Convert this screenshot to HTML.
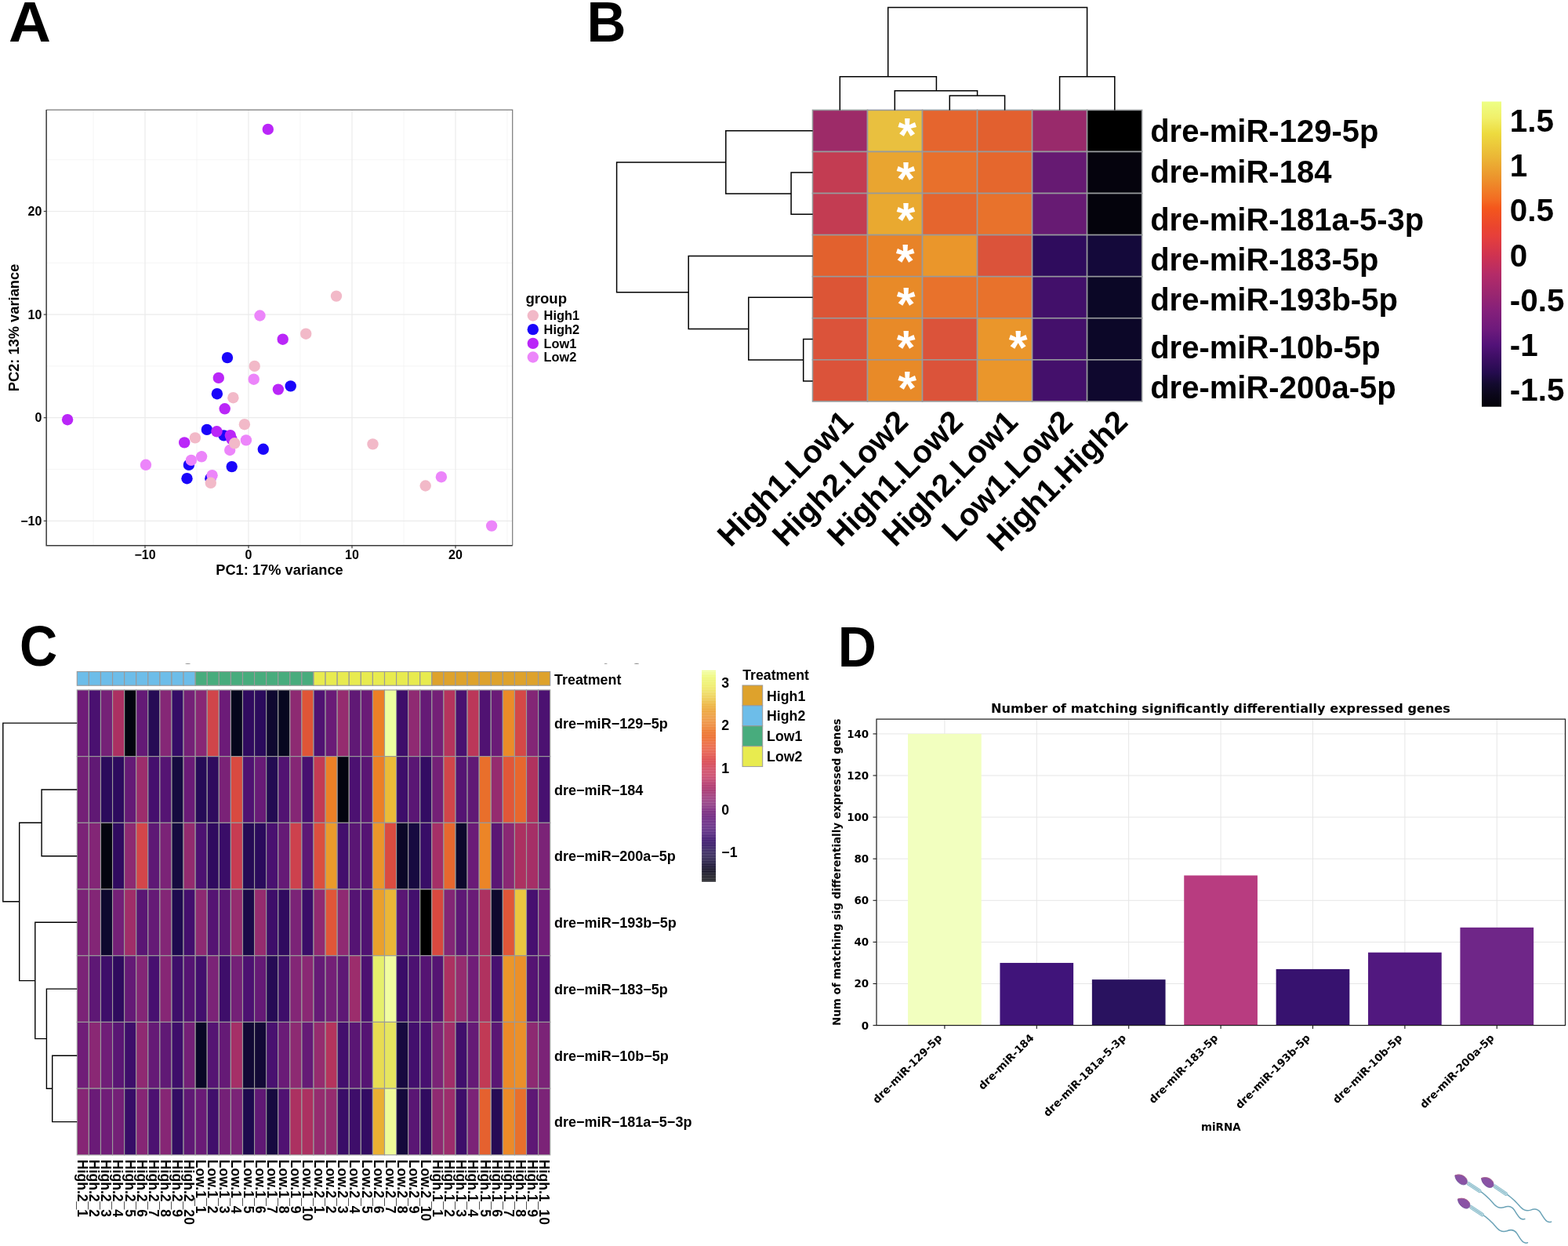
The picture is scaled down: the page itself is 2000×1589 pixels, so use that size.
<!DOCTYPE html>
<html lang="en"><head><meta charset="utf-8"><title>Figure</title>
<style>
html,body{margin:0;padding:0;background:#fff;}
body{width:2000px;height:1589px;overflow:hidden;}
svg{display:block;}
text{font-family:"Liberation Sans",sans-serif;font-weight:bold;fill:#000;}
.dj text, text.dj{font-family:"DejaVu Sans",sans-serif;}
</style></head><body>
<svg width="2000" height="1589" viewBox="0 0 2000 1589">
<rect x="0" y="0" width="2000" height="1589" fill="#ffffff"/>

<g id="letters">
<text transform="translate(11.03 52.9) scale(1.032 1)" font-size="72.32">A</text>
<text transform="translate(748.6 52.9) scale(0.957 1)" font-size="72.32">B</text>
<text transform="translate(24.93 849.28) scale(0.927 1)" font-size="71.97">C</text>
<text transform="translate(1068.78 849.7) scale(0.94 1)" font-size="72.32">D</text>
</g>
<g id="panelA">
<rect x="59.15" y="140.1" width="594.55" height="555.7" fill="#fff"/>
<line x1="119" x2="119" y1="140.1" y2="695.8" stroke="#f0f0f0" stroke-width="0.7"/>
<line x1="251" x2="251" y1="140.1" y2="695.8" stroke="#f0f0f0" stroke-width="0.7"/>
<line x1="383" x2="383" y1="140.1" y2="695.8" stroke="#f0f0f0" stroke-width="0.7"/>
<line x1="515" x2="515" y1="140.1" y2="695.8" stroke="#f0f0f0" stroke-width="0.7"/>
<line x1="647" x2="647" y1="140.1" y2="695.8" stroke="#f0f0f0" stroke-width="0.7"/>
<line x1="59.15" x2="653.7" y1="598.5" y2="598.5" stroke="#f0f0f0" stroke-width="0.7"/>
<line x1="59.15" x2="653.7" y1="466.9" y2="466.9" stroke="#f0f0f0" stroke-width="0.7"/>
<line x1="59.15" x2="653.7" y1="335.3" y2="335.3" stroke="#f0f0f0" stroke-width="0.7"/>
<line x1="59.15" x2="653.7" y1="203.7" y2="203.7" stroke="#f0f0f0" stroke-width="0.7"/>
<line x1="185" x2="185" y1="140.1" y2="695.8" stroke="#ebebeb" stroke-width="1.2"/>
<line x1="59.15" x2="653.7" y1="664.3" y2="664.3" stroke="#ebebeb" stroke-width="1.2"/>
<line x1="317" x2="317" y1="140.1" y2="695.8" stroke="#ebebeb" stroke-width="1.2"/>
<line x1="59.15" x2="653.7" y1="532.7" y2="532.7" stroke="#ebebeb" stroke-width="1.2"/>
<line x1="449" x2="449" y1="140.1" y2="695.8" stroke="#ebebeb" stroke-width="1.2"/>
<line x1="59.15" x2="653.7" y1="401.1" y2="401.1" stroke="#ebebeb" stroke-width="1.2"/>
<line x1="581" x2="581" y1="140.1" y2="695.8" stroke="#ebebeb" stroke-width="1.2"/>
<line x1="59.15" x2="653.7" y1="269.5" y2="269.5" stroke="#ebebeb" stroke-width="1.2"/>
<circle cx="290" cy="456.1" r="7.2" fill="#1A05FA"/>
<circle cx="370.7" cy="492.4" r="7.2" fill="#1A05FA"/>
<circle cx="276.9" cy="502.2" r="7.2" fill="#1A05FA"/>
<circle cx="263.9" cy="547.9" r="7.2" fill="#1A05FA"/>
<circle cx="285.5" cy="555.4" r="7.2" fill="#1A05FA"/>
<circle cx="335.8" cy="572.8" r="7.2" fill="#1A05FA"/>
<circle cx="240.9" cy="592.9" r="7.2" fill="#1A05FA"/>
<circle cx="295.7" cy="595.1" r="7.2" fill="#1A05FA"/>
<circle cx="238.5" cy="610.2" r="7.2" fill="#1A05FA"/>
<circle cx="268.4" cy="610.2" r="7.2" fill="#1A05FA"/>
<circle cx="278.8" cy="481.9" r="7.2" fill="#BA26F8"/>
<circle cx="354.9" cy="496.6" r="7.2" fill="#BA26F8"/>
<circle cx="286.7" cy="521.3" r="7.2" fill="#BA26F8"/>
<circle cx="276.5" cy="550.3" r="7.2" fill="#BA26F8"/>
<circle cx="293.8" cy="555.1" r="7.2" fill="#BA26F8"/>
<circle cx="295.6" cy="560.2" r="7.2" fill="#BA26F8"/>
<circle cx="235.2" cy="564.4" r="7.2" fill="#BA26F8"/>
<circle cx="341.8" cy="164.9" r="7.2" fill="#BA26F8"/>
<circle cx="360.7" cy="432.7" r="7.2" fill="#BA26F8"/>
<circle cx="86.1" cy="535.2" r="7.2" fill="#BA26F8"/>
<circle cx="323.7" cy="483.7" r="7.2" fill="#EC85FA"/>
<circle cx="313.9" cy="561.4" r="7.2" fill="#EC85FA"/>
<circle cx="293.2" cy="574" r="7.2" fill="#EC85FA"/>
<circle cx="257.1" cy="582.3" r="7.2" fill="#EC85FA"/>
<circle cx="243.9" cy="586.9" r="7.2" fill="#EC85FA"/>
<circle cx="270.6" cy="606.2" r="7.2" fill="#EC85FA"/>
<circle cx="331.5" cy="402.5" r="7.2" fill="#EC85FA"/>
<circle cx="186" cy="592.8" r="7.2" fill="#EC85FA"/>
<circle cx="562.9" cy="608.2" r="7.2" fill="#EC85FA"/>
<circle cx="627.1" cy="670.6" r="7.2" fill="#EC85FA"/>
<circle cx="324.7" cy="466.9" r="7.2" fill="#F2B9C8"/>
<circle cx="297.4" cy="507.2" r="7.2" fill="#F2B9C8"/>
<circle cx="311.9" cy="541.2" r="7.2" fill="#F2B9C8"/>
<circle cx="299.2" cy="565.3" r="7.2" fill="#F2B9C8"/>
<circle cx="248.9" cy="558.4" r="7.2" fill="#F2B9C8"/>
<circle cx="268.8" cy="615.8" r="7.2" fill="#F2B9C8"/>
<circle cx="390.2" cy="425.7" r="7.2" fill="#F2B9C8"/>
<circle cx="429" cy="377.6" r="7.2" fill="#F2B9C8"/>
<circle cx="475.5" cy="566.4" r="7.2" fill="#F2B9C8"/>
<circle cx="542.7" cy="619.5" r="7.2" fill="#F2B9C8"/>
<path d="M59.15 140.1H653.7V695.8" fill="none" stroke="#7a7a7a" stroke-width="1.2"/>
<path d="M59.15 140.1V695.8H653.7" fill="none" stroke="#3a3a3a" stroke-width="1.5"/>
<line x1="185" x2="185" y1="695.8" y2="699.2" stroke="#3a3a3a" stroke-width="1.2"/>
<text x="185" y="713.2" font-size="16" text-anchor="middle">−10</text>
<line x1="55.75" x2="59.15" y1="664.3" y2="664.3" stroke="#3a3a3a" stroke-width="1.2"/>
<text x="53.4" y="670" font-size="16" text-anchor="end">−10</text>
<line x1="317" x2="317" y1="695.8" y2="699.2" stroke="#3a3a3a" stroke-width="1.2"/>
<text x="317" y="713.2" font-size="16" text-anchor="middle">0</text>
<line x1="55.75" x2="59.15" y1="532.7" y2="532.7" stroke="#3a3a3a" stroke-width="1.2"/>
<text x="53.4" y="538.4" font-size="16" text-anchor="end">0</text>
<line x1="449" x2="449" y1="695.8" y2="699.2" stroke="#3a3a3a" stroke-width="1.2"/>
<text x="449" y="713.2" font-size="16" text-anchor="middle">10</text>
<line x1="55.75" x2="59.15" y1="401.1" y2="401.1" stroke="#3a3a3a" stroke-width="1.2"/>
<text x="53.4" y="406.8" font-size="16" text-anchor="end">10</text>
<line x1="581" x2="581" y1="695.8" y2="699.2" stroke="#3a3a3a" stroke-width="1.2"/>
<text x="581" y="713.2" font-size="16" text-anchor="middle">20</text>
<line x1="55.75" x2="59.15" y1="269.5" y2="269.5" stroke="#3a3a3a" stroke-width="1.2"/>
<text x="53.4" y="275.2" font-size="16" text-anchor="end">20</text>
<text x="356.5" y="732.8" font-size="18.3" text-anchor="middle">PC1: 17% variance</text>
<text transform="translate(24.2 418) rotate(-90)" font-size="18.3" text-anchor="middle">PC2: 13% variance</text>
<text x="670.4" y="386.5" font-size="18.6">group</text>
<circle cx="679.8" cy="402.5" r="7.2" fill="#F2B9C8"/>
<text x="693.6" y="408.25" font-size="16.4">High1</text>
<circle cx="679.8" cy="420.17" r="7.2" fill="#1A05FA"/>
<text x="693.6" y="425.92" font-size="16.4">High2</text>
<circle cx="679.8" cy="437.84" r="7.2" fill="#BA26F8"/>
<text x="693.6" y="443.59" font-size="16.4">Low1</text>
<circle cx="679.8" cy="455.51" r="7.2" fill="#EC85FA"/>
<text x="693.6" y="461.26" font-size="16.4">Low2</text>
</g>
<g id="panelB">
<g stroke="#979a9c" stroke-width="1.6">
<rect x="1036.5" y="140.4" width="70.02" height="53.07" fill="#9D2B68"/>
<rect x="1106.52" y="140.4" width="70.02" height="53.07" fill="#E9C03F"/>
<rect x="1176.54" y="140.4" width="70.02" height="53.07" fill="#E5652E"/>
<rect x="1246.56" y="140.4" width="70.02" height="53.07" fill="#E2602F"/>
<rect x="1316.58" y="140.4" width="70.02" height="53.07" fill="#992A6B"/>
<rect x="1386.6" y="140.4" width="70.02" height="53.07" fill="#000000"/>
<rect x="1036.5" y="193.47" width="70.02" height="53.07" fill="#C33C52"/>
<rect x="1106.52" y="193.47" width="70.02" height="53.07" fill="#E9A530"/>
<rect x="1176.54" y="193.47" width="70.02" height="53.07" fill="#E8702C"/>
<rect x="1246.56" y="193.47" width="70.02" height="53.07" fill="#E5672D"/>
<rect x="1316.58" y="193.47" width="70.02" height="53.07" fill="#661A72"/>
<rect x="1386.6" y="193.47" width="70.02" height="53.07" fill="#05030D"/>
<rect x="1036.5" y="246.54" width="70.02" height="53.07" fill="#C33C52"/>
<rect x="1106.52" y="246.54" width="70.02" height="53.07" fill="#E9A930"/>
<rect x="1176.54" y="246.54" width="70.02" height="53.07" fill="#E5652E"/>
<rect x="1246.56" y="246.54" width="70.02" height="53.07" fill="#E8722C"/>
<rect x="1316.58" y="246.54" width="70.02" height="53.07" fill="#671B73"/>
<rect x="1386.6" y="246.54" width="70.02" height="53.07" fill="#04030C"/>
<rect x="1036.5" y="299.61" width="70.02" height="53.07" fill="#E2612E"/>
<rect x="1106.52" y="299.61" width="70.02" height="53.07" fill="#E88328"/>
<rect x="1176.54" y="299.61" width="70.02" height="53.07" fill="#EA962B"/>
<rect x="1246.56" y="299.61" width="70.02" height="53.07" fill="#DB533A"/>
<rect x="1316.58" y="299.61" width="70.02" height="53.07" fill="#2F0C5D"/>
<rect x="1386.6" y="299.61" width="70.02" height="53.07" fill="#14093A"/>
<rect x="1036.5" y="352.68" width="70.02" height="53.07" fill="#DC5536"/>
<rect x="1106.52" y="352.68" width="70.02" height="53.07" fill="#E88A28"/>
<rect x="1176.54" y="352.68" width="70.02" height="53.07" fill="#E8722C"/>
<rect x="1246.56" y="352.68" width="70.02" height="53.07" fill="#E8722C"/>
<rect x="1316.58" y="352.68" width="70.02" height="53.07" fill="#42106A"/>
<rect x="1386.6" y="352.68" width="70.02" height="53.07" fill="#0B0726"/>
<rect x="1036.5" y="405.75" width="70.02" height="53.07" fill="#DB533A"/>
<rect x="1106.52" y="405.75" width="70.02" height="53.07" fill="#E88A28"/>
<rect x="1176.54" y="405.75" width="70.02" height="53.07" fill="#DB533A"/>
<rect x="1246.56" y="405.75" width="70.02" height="53.07" fill="#EA962B"/>
<rect x="1316.58" y="405.75" width="70.02" height="53.07" fill="#44106B"/>
<rect x="1386.6" y="405.75" width="70.02" height="53.07" fill="#0C0728"/>
<rect x="1036.5" y="458.82" width="70.02" height="53.07" fill="#DB533A"/>
<rect x="1106.52" y="458.82" width="70.02" height="53.07" fill="#E88A28"/>
<rect x="1176.54" y="458.82" width="70.02" height="53.07" fill="#DB533A"/>
<rect x="1246.56" y="458.82" width="70.02" height="53.07" fill="#EA962B"/>
<rect x="1316.58" y="458.82" width="70.02" height="53.07" fill="#44106B"/>
<rect x="1386.6" y="458.82" width="70.02" height="53.07" fill="#0F082E"/>
</g>
<g fill="none" stroke="#000" stroke-width="1.5" stroke-linejoin="miter">
<path d="M1132.7 97.7V9.6H1386.6V97.7"/>
<path d="M1071.3 140.5V97.7H1194.4V115.8"/>
<path d="M1141.3 140.5V115.8H1246.6V121.9"/>
<path d="M1211.3 140.5V121.9H1281.6V140.5"/>
<path d="M1351.6 140.5V97.7H1421.8V140.5"/>
<path d="M925.8 207H786.6V372.8H878.2"/>
<path d="M1036.6 166.7H925.8V247H1009.1"/>
<path d="M1036.6 220H1009.1V273.2H1036.6"/>
<path d="M1036.6 326.5H878.2V419.6H954.8"/>
<path d="M1036.6 379.3H954.8V459.1H1024.7"/>
<path d="M1036.6 432.4H1024.7V486H1036.6"/>
</g>
<text x="1467.2" y="181.3" font-size="40">dre-miR-129-5p</text>
<text x="1467.2" y="232.9" font-size="40">dre-miR-184</text>
<text x="1467.2" y="294" font-size="40">dre-miR-181a-5-3p</text>
<text x="1467.2" y="344.8" font-size="40">dre-miR-183-5p</text>
<text x="1467.2" y="396.2" font-size="40">dre-miR-193b-5p</text>
<text x="1467.2" y="457.4" font-size="40">dre-miR-10b-5p</text>
<text x="1467.2" y="508.2" font-size="40">dre-miR-200a-5p</text>
<text transform="translate(1090.5 540.2) rotate(-45)" font-size="40" text-anchor="end">High1.Low1</text>
<text transform="translate(1160.5 540.2) rotate(-45)" font-size="40" text-anchor="end">High2.Low2</text>
<text transform="translate(1230.5 540.2) rotate(-45)" font-size="40" text-anchor="end">High1.Low2</text>
<text transform="translate(1300.5 540.2) rotate(-45)" font-size="40" text-anchor="end">High2.Low1</text>
<text transform="translate(1370.5 540.2) rotate(-45)" font-size="40" text-anchor="end">Low1.Low2</text>
<text transform="translate(1440.5 540.2) rotate(-45)" font-size="40" text-anchor="end">High1.High2</text>
<text x="1157.2" y="192.7" font-size="61" text-anchor="middle" style="fill:#fff">*</text>
<text x="1155.4" y="248.6" font-size="61" text-anchor="middle" style="fill:#fff">*</text>
<text x="1155.4" y="301" font-size="61" text-anchor="middle" style="fill:#fff">*</text>
<text x="1154.7" y="353.7" font-size="61" text-anchor="middle" style="fill:#fff">*</text>
<text x="1155.5" y="409.3" font-size="61" text-anchor="middle" style="fill:#fff">*</text>
<text x="1155.5" y="463.9" font-size="61" text-anchor="middle" style="fill:#fff">*</text>
<text x="1157" y="516.1" font-size="61" text-anchor="middle" style="fill:#fff">*</text>
<text x="1298.5" y="463.9" font-size="61" text-anchor="middle" style="fill:#fff">*</text>
<defs><linearGradient id="gB" x1="0" y1="0" x2="0" y2="1">
<stop offset="0.0000" stop-color="#EDFF85"/>
<stop offset="0.0527" stop-color="#F1F06A"/>
<stop offset="0.1041" stop-color="#EDDB3F"/>
<stop offset="0.1811" stop-color="#EBB736"/>
<stop offset="0.2454" stop-color="#EC962D"/>
<stop offset="0.3225" stop-color="#F36B22"/>
<stop offset="0.3482" stop-color="#F4571C"/>
<stop offset="0.4124" stop-color="#EA442F"/>
<stop offset="0.4381" stop-color="#E7403A"/>
<stop offset="0.5023" stop-color="#D03350"/>
<stop offset="0.5665" stop-color="#B42B68"/>
<stop offset="0.6308" stop-color="#9A2670"/>
<stop offset="0.6822" stop-color="#86207A"/>
<stop offset="0.7464" stop-color="#6E1A7C"/>
<stop offset="0.7978" stop-color="#521278"/>
<stop offset="0.8363" stop-color="#3F0E66"/>
<stop offset="0.8877" stop-color="#250B4F"/>
<stop offset="0.9263" stop-color="#130A2E"/>
<stop offset="0.9648" stop-color="#0A0618"/>
<stop offset="1.0000" stop-color="#050309"/>
</linearGradient></defs>
<rect x="1890" y="129.5" width="25" height="389.2" fill="url(#gB)"/>
<text x="1925.8" y="168.4" font-size="40.4">1.5</text>
<text x="1925.8" y="225.3" font-size="40.4">1</text>
<text x="1925.8" y="282.4" font-size="40.4">0.5</text>
<text x="1925.8" y="339.6" font-size="40.4">0</text>
<text x="1925.8" y="396.7" font-size="40.4">-0.5</text>
<text x="1925.8" y="453.8" font-size="40.4">-1</text>
<text x="1925.8" y="510.7" font-size="40.4">-1.5</text>
</g>
<g id="panelC">
<g fill="#8f8f8f"><ellipse cx="239.6" cy="846.5" rx="3.4" ry="0.6"/><ellipse cx="772.6" cy="846.2" rx="2" ry="0.5"/><ellipse cx="812" cy="846.3" rx="3.2" ry="0.6"/></g>
<g stroke="#9a9a9a" stroke-width="1.15">
<rect x="98.3" y="856.5" width="15.09" height="17.7" fill="#6DBDE9"/>
<rect x="113.38" y="856.5" width="15.09" height="17.7" fill="#6DBDE9"/>
<rect x="128.47" y="856.5" width="15.09" height="17.7" fill="#6DBDE9"/>
<rect x="143.56" y="856.5" width="15.09" height="17.7" fill="#6DBDE9"/>
<rect x="158.64" y="856.5" width="15.09" height="17.7" fill="#6DBDE9"/>
<rect x="173.73" y="856.5" width="15.09" height="17.7" fill="#6DBDE9"/>
<rect x="188.81" y="856.5" width="15.09" height="17.7" fill="#6DBDE9"/>
<rect x="203.89" y="856.5" width="15.09" height="17.7" fill="#6DBDE9"/>
<rect x="218.98" y="856.5" width="15.09" height="17.7" fill="#6DBDE9"/>
<rect x="234.06" y="856.5" width="15.09" height="17.7" fill="#6DBDE9"/>
<rect x="249.15" y="856.5" width="15.09" height="17.7" fill="#48AC7D"/>
<rect x="264.24" y="856.5" width="15.09" height="17.7" fill="#48AC7D"/>
<rect x="279.32" y="856.5" width="15.09" height="17.7" fill="#48AC7D"/>
<rect x="294.41" y="856.5" width="15.09" height="17.7" fill="#48AC7D"/>
<rect x="309.49" y="856.5" width="15.09" height="17.7" fill="#48AC7D"/>
<rect x="324.57" y="856.5" width="15.09" height="17.7" fill="#48AC7D"/>
<rect x="339.66" y="856.5" width="15.09" height="17.7" fill="#48AC7D"/>
<rect x="354.75" y="856.5" width="15.09" height="17.7" fill="#48AC7D"/>
<rect x="369.83" y="856.5" width="15.09" height="17.7" fill="#48AC7D"/>
<rect x="384.92" y="856.5" width="15.09" height="17.7" fill="#48AC7D"/>
<rect x="400" y="856.5" width="15.09" height="17.7" fill="#E8EB4F"/>
<rect x="415.09" y="856.5" width="15.09" height="17.7" fill="#E8EB4F"/>
<rect x="430.17" y="856.5" width="15.09" height="17.7" fill="#E8EB4F"/>
<rect x="445.26" y="856.5" width="15.09" height="17.7" fill="#E8EB4F"/>
<rect x="460.34" y="856.5" width="15.09" height="17.7" fill="#E8EB4F"/>
<rect x="475.43" y="856.5" width="15.09" height="17.7" fill="#E8EB4F"/>
<rect x="490.51" y="856.5" width="15.09" height="17.7" fill="#E8EB4F"/>
<rect x="505.6" y="856.5" width="15.09" height="17.7" fill="#E8EB4F"/>
<rect x="520.68" y="856.5" width="15.09" height="17.7" fill="#E8EB4F"/>
<rect x="535.76" y="856.5" width="15.09" height="17.7" fill="#E8EB4F"/>
<rect x="550.85" y="856.5" width="15.09" height="17.7" fill="#DEA22C"/>
<rect x="565.94" y="856.5" width="15.09" height="17.7" fill="#DEA22C"/>
<rect x="581.02" y="856.5" width="15.09" height="17.7" fill="#DEA22C"/>
<rect x="596.11" y="856.5" width="15.09" height="17.7" fill="#DEA22C"/>
<rect x="611.19" y="856.5" width="15.09" height="17.7" fill="#DEA22C"/>
<rect x="626.27" y="856.5" width="15.09" height="17.7" fill="#DEA22C"/>
<rect x="641.36" y="856.5" width="15.09" height="17.7" fill="#DEA22C"/>
<rect x="656.44" y="856.5" width="15.09" height="17.7" fill="#DEA22C"/>
<rect x="671.53" y="856.5" width="15.09" height="17.7" fill="#DEA22C"/>
<rect x="686.62" y="856.5" width="15.09" height="17.7" fill="#DEA22C"/>
<rect x="98.3" y="879.95" width="15.09" height="84.7" fill="#6F1C78"/>
<rect x="113.38" y="879.95" width="15.09" height="84.7" fill="#4A1170"/>
<rect x="128.47" y="879.95" width="15.09" height="84.7" fill="#752177"/>
<rect x="143.56" y="879.95" width="15.09" height="84.7" fill="#AB3062"/>
<rect x="158.64" y="879.95" width="15.09" height="84.7" fill="#03040F"/>
<rect x="173.73" y="879.95" width="15.09" height="84.7" fill="#641A76"/>
<rect x="188.81" y="879.95" width="15.09" height="84.7" fill="#260B55"/>
<rect x="203.89" y="879.95" width="15.09" height="84.7" fill="#852776"/>
<rect x="218.98" y="879.95" width="15.09" height="84.7" fill="#350C66"/>
<rect x="234.06" y="879.95" width="15.09" height="84.7" fill="#752177"/>
<rect x="249.15" y="879.95" width="15.09" height="84.7" fill="#882775"/>
<rect x="264.24" y="879.95" width="15.09" height="84.7" fill="#D0454A"/>
<rect x="279.32" y="879.95" width="15.09" height="84.7" fill="#6C1B78"/>
<rect x="294.41" y="879.95" width="15.09" height="84.7" fill="#05061C"/>
<rect x="309.49" y="879.95" width="15.09" height="84.7" fill="#300B5F"/>
<rect x="324.57" y="879.95" width="15.09" height="84.7" fill="#2B0B5C"/>
<rect x="339.66" y="879.95" width="15.09" height="84.7" fill="#0F0830"/>
<rect x="354.75" y="879.95" width="15.09" height="84.7" fill="#07071F"/>
<rect x="369.83" y="879.95" width="15.09" height="84.7" fill="#8D2A72"/>
<rect x="384.92" y="879.95" width="15.09" height="84.7" fill="#DF5537"/>
<rect x="400" y="879.95" width="15.09" height="84.7" fill="#501272"/>
<rect x="415.09" y="879.95" width="15.09" height="84.7" fill="#6A1B77"/>
<rect x="430.17" y="879.95" width="15.09" height="84.7" fill="#952C6F"/>
<rect x="445.26" y="879.95" width="15.09" height="84.7" fill="#601975"/>
<rect x="460.34" y="879.95" width="15.09" height="84.7" fill="#6A1B77"/>
<rect x="475.43" y="879.95" width="15.09" height="84.7" fill="#EC8026"/>
<rect x="490.51" y="879.95" width="15.09" height="84.7" fill="#EEFFA0"/>
<rect x="505.6" y="879.95" width="15.09" height="84.7" fill="#3E0E6A"/>
<rect x="520.68" y="879.95" width="15.09" height="84.7" fill="#8F2A72"/>
<rect x="535.76" y="879.95" width="15.09" height="84.7" fill="#651A76"/>
<rect x="550.85" y="879.95" width="15.09" height="84.7" fill="#742077"/>
<rect x="565.94" y="879.95" width="15.09" height="84.7" fill="#B4345D"/>
<rect x="581.02" y="879.95" width="15.09" height="84.7" fill="#491170"/>
<rect x="596.11" y="879.95" width="15.09" height="84.7" fill="#BB3759"/>
<rect x="611.19" y="879.95" width="15.09" height="84.7" fill="#501272"/>
<rect x="626.27" y="879.95" width="15.09" height="84.7" fill="#6A1B77"/>
<rect x="641.36" y="879.95" width="15.09" height="84.7" fill="#EB8B28"/>
<rect x="656.44" y="879.95" width="15.09" height="84.7" fill="#D44847"/>
<rect x="671.53" y="879.95" width="15.09" height="84.7" fill="#832676"/>
<rect x="686.62" y="879.95" width="15.09" height="84.7" fill="#4C1171"/>
<rect x="98.3" y="964.65" width="15.09" height="84.7" fill="#742077"/>
<rect x="113.38" y="964.65" width="15.09" height="84.7" fill="#601974"/>
<rect x="128.47" y="964.65" width="15.09" height="84.7" fill="#2B0B5C"/>
<rect x="143.56" y="964.65" width="15.09" height="84.7" fill="#2D0B5E"/>
<rect x="158.64" y="964.65" width="15.09" height="84.7" fill="#651A76"/>
<rect x="173.73" y="964.65" width="15.09" height="84.7" fill="#9C2D6C"/>
<rect x="188.81" y="964.65" width="15.09" height="84.7" fill="#450F6E"/>
<rect x="203.89" y="964.65" width="15.09" height="84.7" fill="#551473"/>
<rect x="218.98" y="964.65" width="15.09" height="84.7" fill="#150A3F"/>
<rect x="234.06" y="964.65" width="15.09" height="84.7" fill="#6A1B77"/>
<rect x="249.15" y="964.65" width="15.09" height="84.7" fill="#270B57"/>
<rect x="264.24" y="964.65" width="15.09" height="84.7" fill="#2F0B5E"/>
<rect x="279.32" y="964.65" width="15.09" height="84.7" fill="#7A2277"/>
<rect x="294.41" y="964.65" width="15.09" height="84.7" fill="#D94A40"/>
<rect x="309.49" y="964.65" width="15.09" height="84.7" fill="#501272"/>
<rect x="324.57" y="964.65" width="15.09" height="84.7" fill="#681B77"/>
<rect x="339.66" y="964.65" width="15.09" height="84.7" fill="#230B52"/>
<rect x="354.75" y="964.65" width="15.09" height="84.7" fill="#521372"/>
<rect x="369.83" y="964.65" width="15.09" height="84.7" fill="#852675"/>
<rect x="384.92" y="964.65" width="15.09" height="84.7" fill="#471070"/>
<rect x="400" y="964.65" width="15.09" height="84.7" fill="#C33B54"/>
<rect x="415.09" y="964.65" width="15.09" height="84.7" fill="#EC8026"/>
<rect x="430.17" y="964.65" width="15.09" height="84.7" fill="#03040F"/>
<rect x="445.26" y="964.65" width="15.09" height="84.7" fill="#4C1171"/>
<rect x="460.34" y="964.65" width="15.09" height="84.7" fill="#5A1674"/>
<rect x="475.43" y="964.65" width="15.09" height="84.7" fill="#EC8026"/>
<rect x="490.51" y="964.65" width="15.09" height="84.7" fill="#EBBB38"/>
<rect x="505.6" y="964.65" width="15.09" height="84.7" fill="#3E0E6A"/>
<rect x="520.68" y="964.65" width="15.09" height="84.7" fill="#5A1674"/>
<rect x="535.76" y="964.65" width="15.09" height="84.7" fill="#330C63"/>
<rect x="550.85" y="964.65" width="15.09" height="84.7" fill="#742077"/>
<rect x="565.94" y="964.65" width="15.09" height="84.7" fill="#D0454A"/>
<rect x="581.02" y="964.65" width="15.09" height="84.7" fill="#551473"/>
<rect x="596.11" y="964.65" width="15.09" height="84.7" fill="#601975"/>
<rect x="611.19" y="964.65" width="15.09" height="84.7" fill="#E96F2B"/>
<rect x="626.27" y="964.65" width="15.09" height="84.7" fill="#952C6F"/>
<rect x="641.36" y="964.65" width="15.09" height="84.7" fill="#E15738"/>
<rect x="656.44" y="964.65" width="15.09" height="84.7" fill="#E7672E"/>
<rect x="671.53" y="964.65" width="15.09" height="84.7" fill="#B0325F"/>
<rect x="686.62" y="964.65" width="15.09" height="84.7" fill="#471070"/>
<rect x="98.3" y="1049.35" width="15.09" height="84.7" fill="#7B2377"/>
<rect x="113.38" y="1049.35" width="15.09" height="84.7" fill="#832676"/>
<rect x="128.47" y="1049.35" width="15.09" height="84.7" fill="#03040F"/>
<rect x="143.56" y="1049.35" width="15.09" height="84.7" fill="#300B5F"/>
<rect x="158.64" y="1049.35" width="15.09" height="84.7" fill="#8D2A72"/>
<rect x="173.73" y="1049.35" width="15.09" height="84.7" fill="#D3464A"/>
<rect x="188.81" y="1049.35" width="15.09" height="84.7" fill="#5E1875"/>
<rect x="203.89" y="1049.35" width="15.09" height="84.7" fill="#7B2377"/>
<rect x="218.98" y="1049.35" width="15.09" height="84.7" fill="#150A3F"/>
<rect x="234.06" y="1049.35" width="15.09" height="84.7" fill="#932B6F"/>
<rect x="249.15" y="1049.35" width="15.09" height="84.7" fill="#4D1271"/>
<rect x="264.24" y="1049.35" width="15.09" height="84.7" fill="#300B5F"/>
<rect x="279.32" y="1049.35" width="15.09" height="84.7" fill="#3A0D68"/>
<rect x="294.41" y="1049.35" width="15.09" height="84.7" fill="#C73C52"/>
<rect x="309.49" y="1049.35" width="15.09" height="84.7" fill="#260B55"/>
<rect x="324.57" y="1049.35" width="15.09" height="84.7" fill="#2B0B5C"/>
<rect x="339.66" y="1049.35" width="15.09" height="84.7" fill="#491170"/>
<rect x="354.75" y="1049.35" width="15.09" height="84.7" fill="#651A76"/>
<rect x="369.83" y="1049.35" width="15.09" height="84.7" fill="#CD414D"/>
<rect x="384.92" y="1049.35" width="15.09" height="84.7" fill="#5E1875"/>
<rect x="400" y="1049.35" width="15.09" height="84.7" fill="#DB4F3F"/>
<rect x="415.09" y="1049.35" width="15.09" height="84.7" fill="#EB9A2B"/>
<rect x="430.17" y="1049.35" width="15.09" height="84.7" fill="#430F6D"/>
<rect x="445.26" y="1049.35" width="15.09" height="84.7" fill="#5A1674"/>
<rect x="460.34" y="1049.35" width="15.09" height="84.7" fill="#551473"/>
<rect x="475.43" y="1049.35" width="15.09" height="84.7" fill="#EB962A"/>
<rect x="490.51" y="1049.35" width="15.09" height="84.7" fill="#DA4C40"/>
<rect x="505.6" y="1049.35" width="15.09" height="84.7" fill="#0B0728"/>
<rect x="520.68" y="1049.35" width="15.09" height="84.7" fill="#170A40"/>
<rect x="535.76" y="1049.35" width="15.09" height="84.7" fill="#380D67"/>
<rect x="550.85" y="1049.35" width="15.09" height="84.7" fill="#A52F67"/>
<rect x="565.94" y="1049.35" width="15.09" height="84.7" fill="#E7672E"/>
<rect x="581.02" y="1049.35" width="15.09" height="84.7" fill="#0D082C"/>
<rect x="596.11" y="1049.35" width="15.09" height="84.7" fill="#6A1B77"/>
<rect x="611.19" y="1049.35" width="15.09" height="84.7" fill="#EC8527"/>
<rect x="626.27" y="1049.35" width="15.09" height="84.7" fill="#5A1674"/>
<rect x="641.36" y="1049.35" width="15.09" height="84.7" fill="#8A2874"/>
<rect x="656.44" y="1049.35" width="15.09" height="84.7" fill="#AC3161"/>
<rect x="671.53" y="1049.35" width="15.09" height="84.7" fill="#A52F67"/>
<rect x="686.62" y="1049.35" width="15.09" height="84.7" fill="#7B2377"/>
<rect x="98.3" y="1134.05" width="15.09" height="84.7" fill="#7B2377"/>
<rect x="113.38" y="1134.05" width="15.09" height="84.7" fill="#832676"/>
<rect x="128.47" y="1134.05" width="15.09" height="84.7" fill="#0E082E"/>
<rect x="143.56" y="1134.05" width="15.09" height="84.7" fill="#742077"/>
<rect x="158.64" y="1134.05" width="15.09" height="84.7" fill="#A02E69"/>
<rect x="173.73" y="1134.05" width="15.09" height="84.7" fill="#5A1674"/>
<rect x="188.81" y="1134.05" width="15.09" height="84.7" fill="#651A76"/>
<rect x="203.89" y="1134.05" width="15.09" height="84.7" fill="#832676"/>
<rect x="218.98" y="1134.05" width="15.09" height="84.7" fill="#1E0A4E"/>
<rect x="234.06" y="1134.05" width="15.09" height="84.7" fill="#430F6D"/>
<rect x="249.15" y="1134.05" width="15.09" height="84.7" fill="#8D2A72"/>
<rect x="264.24" y="1134.05" width="15.09" height="84.7" fill="#551473"/>
<rect x="279.32" y="1134.05" width="15.09" height="84.7" fill="#5A1674"/>
<rect x="294.41" y="1134.05" width="15.09" height="84.7" fill="#952C6F"/>
<rect x="309.49" y="1134.05" width="15.09" height="84.7" fill="#1B0A48"/>
<rect x="324.57" y="1134.05" width="15.09" height="84.7" fill="#952C6F"/>
<rect x="339.66" y="1134.05" width="15.09" height="84.7" fill="#3E0E6A"/>
<rect x="354.75" y="1134.05" width="15.09" height="84.7" fill="#300B5F"/>
<rect x="369.83" y="1134.05" width="15.09" height="84.7" fill="#7B2377"/>
<rect x="384.92" y="1134.05" width="15.09" height="84.7" fill="#3A0D68"/>
<rect x="400" y="1134.05" width="15.09" height="84.7" fill="#912A71"/>
<rect x="415.09" y="1134.05" width="15.09" height="84.7" fill="#E05638"/>
<rect x="430.17" y="1134.05" width="15.09" height="84.7" fill="#8F2A72"/>
<rect x="445.26" y="1134.05" width="15.09" height="84.7" fill="#551473"/>
<rect x="460.34" y="1134.05" width="15.09" height="84.7" fill="#501272"/>
<rect x="475.43" y="1134.05" width="15.09" height="84.7" fill="#EAA02C"/>
<rect x="490.51" y="1134.05" width="15.09" height="84.7" fill="#EBB637"/>
<rect x="505.6" y="1134.05" width="15.09" height="84.7" fill="#5A1674"/>
<rect x="520.68" y="1134.05" width="15.09" height="84.7" fill="#430F6D"/>
<rect x="535.76" y="1134.05" width="15.09" height="84.7" fill="#000000"/>
<rect x="550.85" y="1134.05" width="15.09" height="84.7" fill="#D8493F"/>
<rect x="565.94" y="1134.05" width="15.09" height="84.7" fill="#832676"/>
<rect x="581.02" y="1134.05" width="15.09" height="84.7" fill="#5E1875"/>
<rect x="596.11" y="1134.05" width="15.09" height="84.7" fill="#6A1B77"/>
<rect x="611.19" y="1134.05" width="15.09" height="84.7" fill="#AC3161"/>
<rect x="626.27" y="1134.05" width="15.09" height="84.7" fill="#0E082E"/>
<rect x="641.36" y="1134.05" width="15.09" height="84.7" fill="#E05638"/>
<rect x="656.44" y="1134.05" width="15.09" height="84.7" fill="#EAC640"/>
<rect x="671.53" y="1134.05" width="15.09" height="84.7" fill="#471070"/>
<rect x="686.62" y="1134.05" width="15.09" height="84.7" fill="#701D78"/>
<rect x="98.3" y="1218.75" width="15.09" height="84.7" fill="#7B2377"/>
<rect x="113.38" y="1218.75" width="15.09" height="84.7" fill="#5E1875"/>
<rect x="128.47" y="1218.75" width="15.09" height="84.7" fill="#3E0E6A"/>
<rect x="143.56" y="1218.75" width="15.09" height="84.7" fill="#2F0B5E"/>
<rect x="158.64" y="1218.75" width="15.09" height="84.7" fill="#651A76"/>
<rect x="173.73" y="1218.75" width="15.09" height="84.7" fill="#832676"/>
<rect x="188.81" y="1218.75" width="15.09" height="84.7" fill="#471070"/>
<rect x="203.89" y="1218.75" width="15.09" height="84.7" fill="#862675"/>
<rect x="218.98" y="1218.75" width="15.09" height="84.7" fill="#3E0E6A"/>
<rect x="234.06" y="1218.75" width="15.09" height="84.7" fill="#551473"/>
<rect x="249.15" y="1218.75" width="15.09" height="84.7" fill="#430F6D"/>
<rect x="264.24" y="1218.75" width="15.09" height="84.7" fill="#7B2377"/>
<rect x="279.32" y="1218.75" width="15.09" height="84.7" fill="#3E0E6A"/>
<rect x="294.41" y="1218.75" width="15.09" height="84.7" fill="#742077"/>
<rect x="309.49" y="1218.75" width="15.09" height="84.7" fill="#4C1171"/>
<rect x="324.57" y="1218.75" width="15.09" height="84.7" fill="#651A76"/>
<rect x="339.66" y="1218.75" width="15.09" height="84.7" fill="#260B55"/>
<rect x="354.75" y="1218.75" width="15.09" height="84.7" fill="#3E0E6A"/>
<rect x="369.83" y="1218.75" width="15.09" height="84.7" fill="#832676"/>
<rect x="384.92" y="1218.75" width="15.09" height="84.7" fill="#8A2874"/>
<rect x="400" y="1218.75" width="15.09" height="84.7" fill="#651A76"/>
<rect x="415.09" y="1218.75" width="15.09" height="84.7" fill="#742077"/>
<rect x="430.17" y="1218.75" width="15.09" height="84.7" fill="#5E1875"/>
<rect x="445.26" y="1218.75" width="15.09" height="84.7" fill="#9C2D6C"/>
<rect x="460.34" y="1218.75" width="15.09" height="84.7" fill="#4C1171"/>
<rect x="475.43" y="1218.75" width="15.09" height="84.7" fill="#E6F06C"/>
<rect x="490.51" y="1218.75" width="15.09" height="84.7" fill="#F1FDA0"/>
<rect x="505.6" y="1218.75" width="15.09" height="84.7" fill="#3A0D68"/>
<rect x="520.68" y="1218.75" width="15.09" height="84.7" fill="#4C1171"/>
<rect x="535.76" y="1218.75" width="15.09" height="84.7" fill="#551473"/>
<rect x="550.85" y="1218.75" width="15.09" height="84.7" fill="#551473"/>
<rect x="565.94" y="1218.75" width="15.09" height="84.7" fill="#AC3161"/>
<rect x="581.02" y="1218.75" width="15.09" height="84.7" fill="#952C6F"/>
<rect x="596.11" y="1218.75" width="15.09" height="84.7" fill="#701D78"/>
<rect x="611.19" y="1218.75" width="15.09" height="84.7" fill="#B0325F"/>
<rect x="626.27" y="1218.75" width="15.09" height="84.7" fill="#471070"/>
<rect x="641.36" y="1218.75" width="15.09" height="84.7" fill="#EB962A"/>
<rect x="656.44" y="1218.75" width="15.09" height="84.7" fill="#EB902A"/>
<rect x="671.53" y="1218.75" width="15.09" height="84.7" fill="#551473"/>
<rect x="686.62" y="1218.75" width="15.09" height="84.7" fill="#551473"/>
<rect x="98.3" y="1303.45" width="15.09" height="84.7" fill="#701D78"/>
<rect x="113.38" y="1303.45" width="15.09" height="84.7" fill="#8A2874"/>
<rect x="128.47" y="1303.45" width="15.09" height="84.7" fill="#701D78"/>
<rect x="143.56" y="1303.45" width="15.09" height="84.7" fill="#5A1674"/>
<rect x="158.64" y="1303.45" width="15.09" height="84.7" fill="#3E0E6A"/>
<rect x="173.73" y="1303.45" width="15.09" height="84.7" fill="#8F2A72"/>
<rect x="188.81" y="1303.45" width="15.09" height="84.7" fill="#651A76"/>
<rect x="203.89" y="1303.45" width="15.09" height="84.7" fill="#601975"/>
<rect x="218.98" y="1303.45" width="15.09" height="84.7" fill="#3E0E6A"/>
<rect x="234.06" y="1303.45" width="15.09" height="84.7" fill="#742077"/>
<rect x="249.15" y="1303.45" width="15.09" height="84.7" fill="#0A0726"/>
<rect x="264.24" y="1303.45" width="15.09" height="84.7" fill="#551473"/>
<rect x="279.32" y="1303.45" width="15.09" height="84.7" fill="#651A76"/>
<rect x="294.41" y="1303.45" width="15.09" height="84.7" fill="#A52F67"/>
<rect x="309.49" y="1303.45" width="15.09" height="84.7" fill="#120935"/>
<rect x="324.57" y="1303.45" width="15.09" height="84.7" fill="#130936"/>
<rect x="339.66" y="1303.45" width="15.09" height="84.7" fill="#491170"/>
<rect x="354.75" y="1303.45" width="15.09" height="84.7" fill="#6A1B77"/>
<rect x="369.83" y="1303.45" width="15.09" height="84.7" fill="#8D2A72"/>
<rect x="384.92" y="1303.45" width="15.09" height="84.7" fill="#651A76"/>
<rect x="400" y="1303.45" width="15.09" height="84.7" fill="#952C6F"/>
<rect x="415.09" y="1303.45" width="15.09" height="84.7" fill="#B4345D"/>
<rect x="430.17" y="1303.45" width="15.09" height="84.7" fill="#430F6D"/>
<rect x="445.26" y="1303.45" width="15.09" height="84.7" fill="#5A1674"/>
<rect x="460.34" y="1303.45" width="15.09" height="84.7" fill="#551473"/>
<rect x="475.43" y="1303.45" width="15.09" height="84.7" fill="#E8DC52"/>
<rect x="490.51" y="1303.45" width="15.09" height="84.7" fill="#E6E560"/>
<rect x="505.6" y="1303.45" width="15.09" height="84.7" fill="#170A40"/>
<rect x="520.68" y="1303.45" width="15.09" height="84.7" fill="#430F6D"/>
<rect x="535.76" y="1303.45" width="15.09" height="84.7" fill="#471070"/>
<rect x="550.85" y="1303.45" width="15.09" height="84.7" fill="#7B2377"/>
<rect x="565.94" y="1303.45" width="15.09" height="84.7" fill="#A02E69"/>
<rect x="581.02" y="1303.45" width="15.09" height="84.7" fill="#410F6C"/>
<rect x="596.11" y="1303.45" width="15.09" height="84.7" fill="#651A76"/>
<rect x="611.19" y="1303.45" width="15.09" height="84.7" fill="#C13A55"/>
<rect x="626.27" y="1303.45" width="15.09" height="84.7" fill="#5A1674"/>
<rect x="641.36" y="1303.45" width="15.09" height="84.7" fill="#EC8A28"/>
<rect x="656.44" y="1303.45" width="15.09" height="84.7" fill="#EB902A"/>
<rect x="671.53" y="1303.45" width="15.09" height="84.7" fill="#8D2A72"/>
<rect x="686.62" y="1303.45" width="15.09" height="84.7" fill="#7B2377"/>
<rect x="98.3" y="1388.15" width="15.09" height="84.7" fill="#862675"/>
<rect x="113.38" y="1388.15" width="15.09" height="84.7" fill="#6A1B77"/>
<rect x="128.47" y="1388.15" width="15.09" height="84.7" fill="#701D78"/>
<rect x="143.56" y="1388.15" width="15.09" height="84.7" fill="#742077"/>
<rect x="158.64" y="1388.15" width="15.09" height="84.7" fill="#380D67"/>
<rect x="173.73" y="1388.15" width="15.09" height="84.7" fill="#862675"/>
<rect x="188.81" y="1388.15" width="15.09" height="84.7" fill="#4C1171"/>
<rect x="203.89" y="1388.15" width="15.09" height="84.7" fill="#862675"/>
<rect x="218.98" y="1388.15" width="15.09" height="84.7" fill="#330C63"/>
<rect x="234.06" y="1388.15" width="15.09" height="84.7" fill="#601975"/>
<rect x="249.15" y="1388.15" width="15.09" height="84.7" fill="#6A1B77"/>
<rect x="264.24" y="1388.15" width="15.09" height="84.7" fill="#410F6C"/>
<rect x="279.32" y="1388.15" width="15.09" height="84.7" fill="#742077"/>
<rect x="294.41" y="1388.15" width="15.09" height="84.7" fill="#7B2377"/>
<rect x="309.49" y="1388.15" width="15.09" height="84.7" fill="#1E0A4E"/>
<rect x="324.57" y="1388.15" width="15.09" height="84.7" fill="#601975"/>
<rect x="339.66" y="1388.15" width="15.09" height="84.7" fill="#170A40"/>
<rect x="354.75" y="1388.15" width="15.09" height="84.7" fill="#501272"/>
<rect x="369.83" y="1388.15" width="15.09" height="84.7" fill="#AC3161"/>
<rect x="384.92" y="1388.15" width="15.09" height="84.7" fill="#AC3161"/>
<rect x="400" y="1388.15" width="15.09" height="84.7" fill="#952C6F"/>
<rect x="415.09" y="1388.15" width="15.09" height="84.7" fill="#952C6F"/>
<rect x="430.17" y="1388.15" width="15.09" height="84.7" fill="#3A0D68"/>
<rect x="445.26" y="1388.15" width="15.09" height="84.7" fill="#3E0E6A"/>
<rect x="460.34" y="1388.15" width="15.09" height="84.7" fill="#330C63"/>
<rect x="475.43" y="1388.15" width="15.09" height="84.7" fill="#EAB033"/>
<rect x="490.51" y="1388.15" width="15.09" height="84.7" fill="#EFFB98"/>
<rect x="505.6" y="1388.15" width="15.09" height="84.7" fill="#150A3C"/>
<rect x="520.68" y="1388.15" width="15.09" height="84.7" fill="#5A1674"/>
<rect x="535.76" y="1388.15" width="15.09" height="84.7" fill="#300B5F"/>
<rect x="550.85" y="1388.15" width="15.09" height="84.7" fill="#8F2A72"/>
<rect x="565.94" y="1388.15" width="15.09" height="84.7" fill="#9C2D6C"/>
<rect x="581.02" y="1388.15" width="15.09" height="84.7" fill="#3E0E6A"/>
<rect x="596.11" y="1388.15" width="15.09" height="84.7" fill="#7B2377"/>
<rect x="611.19" y="1388.15" width="15.09" height="84.7" fill="#E5612F"/>
<rect x="626.27" y="1388.15" width="15.09" height="84.7" fill="#260B55"/>
<rect x="641.36" y="1388.15" width="15.09" height="84.7" fill="#EC8A28"/>
<rect x="656.44" y="1388.15" width="15.09" height="84.7" fill="#E8702C"/>
<rect x="671.53" y="1388.15" width="15.09" height="84.7" fill="#5E1875"/>
<rect x="686.62" y="1388.15" width="15.09" height="84.7" fill="#7B2377"/>
</g>
<g fill="none" stroke="#000" stroke-width="1.4">
<path d="M98.2 922.1H3.8V1149.8H24.7"/>
<path d="M53.1 1049.2H24.7V1250.6H44.8"/>
<path d="M98.2 1007H53.1V1091.8H98.2"/>
<path d="M98.2 1176.3H44.8V1324.6H59.4"/>
<path d="M98.2 1261.1H59.4V1388.3H66.7"/>
<path d="M98.2 1346.2H66.7V1430.6H98.2"/>
</g>
<text x="707.1" y="872.8" font-size="17.85">Treatment</text>
<text x="707.0" y="928.8" font-size="18.05">dre−miR−129−5p</text>
<text x="707.0" y="1013.5" font-size="18.05">dre−miR−184</text>
<text x="707.0" y="1098.2" font-size="18.05">dre−miR−200a−5p</text>
<text x="707.0" y="1183.4" font-size="18.05">dre−miR−193b−5p</text>
<text x="707.0" y="1267.7" font-size="18.05">dre−miR−183−5p</text>
<text x="707.0" y="1352.8" font-size="18.05">dre−miR−10b−5p</text>
<text x="707.0" y="1437.1" font-size="18.05">dre−miR−181a−5−3p</text>
<text transform="translate(99.15 1478.8) rotate(90)" font-size="17.6">High.2_1</text>
<text transform="translate(114.25 1478.8) rotate(90)" font-size="17.6">High.2_2</text>
<text transform="translate(129.35 1478.8) rotate(90)" font-size="17.6">High.2_3</text>
<text transform="translate(144.45 1478.8) rotate(90)" font-size="17.6">High.2_4</text>
<text transform="translate(159.55 1478.8) rotate(90)" font-size="17.6">High.2_5</text>
<text transform="translate(174.65 1478.8) rotate(90)" font-size="17.6">High.2_6</text>
<text transform="translate(189.75 1478.8) rotate(90)" font-size="17.6">High.2_7</text>
<text transform="translate(204.85 1478.8) rotate(90)" font-size="17.6">High.2_8</text>
<text transform="translate(219.95 1478.8) rotate(90)" font-size="17.6">High.2_9</text>
<text transform="translate(235.05 1478.8) rotate(90)" font-size="17.6">High.2_20</text>
<text transform="translate(250.15 1478.8) rotate(90)" font-size="17.6">Low.1_1</text>
<text transform="translate(265.25 1478.8) rotate(90)" font-size="17.6">Low.1_2</text>
<text transform="translate(280.35 1478.8) rotate(90)" font-size="17.6">Low.1_3</text>
<text transform="translate(295.45 1478.8) rotate(90)" font-size="17.6">Low.1_4</text>
<text transform="translate(310.55 1478.8) rotate(90)" font-size="17.6">Low.1_5</text>
<text transform="translate(325.65 1478.8) rotate(90)" font-size="17.6">Low.1_6</text>
<text transform="translate(340.75 1478.8) rotate(90)" font-size="17.6">Low.1_7</text>
<text transform="translate(355.85 1478.8) rotate(90)" font-size="17.6">Low.1_8</text>
<text transform="translate(370.95 1478.8) rotate(90)" font-size="17.6">Low.1_9</text>
<text transform="translate(386.05 1478.8) rotate(90)" font-size="17.6">Low.1_10</text>
<text transform="translate(401.15 1478.8) rotate(90)" font-size="17.6">Low.2_1</text>
<text transform="translate(416.25 1478.8) rotate(90)" font-size="17.6">Low.2_2</text>
<text transform="translate(431.35 1478.8) rotate(90)" font-size="17.6">Low.2_3</text>
<text transform="translate(446.45 1478.8) rotate(90)" font-size="17.6">Low.2_4</text>
<text transform="translate(461.55 1478.8) rotate(90)" font-size="17.6">Low.2_5</text>
<text transform="translate(476.65 1478.8) rotate(90)" font-size="17.6">Low.2_6</text>
<text transform="translate(491.75 1478.8) rotate(90)" font-size="17.6">Low.2_7</text>
<text transform="translate(506.85 1478.8) rotate(90)" font-size="17.6">Low.2_8</text>
<text transform="translate(521.95 1478.8) rotate(90)" font-size="17.6">Low.2_9</text>
<text transform="translate(537.05 1478.8) rotate(90)" font-size="17.6">Low.2_10</text>
<text transform="translate(552.15 1478.8) rotate(90)" font-size="17.6">High.1_1</text>
<text transform="translate(567.25 1478.8) rotate(90)" font-size="17.6">High.1_2</text>
<text transform="translate(582.35 1478.8) rotate(90)" font-size="17.6">High.1_3</text>
<text transform="translate(597.45 1478.8) rotate(90)" font-size="17.6">High.1_4</text>
<text transform="translate(612.55 1478.8) rotate(90)" font-size="17.6">High.1_5</text>
<text transform="translate(627.65 1478.8) rotate(90)" font-size="17.6">High.1_6</text>
<text transform="translate(642.75 1478.8) rotate(90)" font-size="17.6">High.1_7</text>
<text transform="translate(657.85 1478.8) rotate(90)" font-size="17.6">High.1_8</text>
<text transform="translate(672.95 1478.8) rotate(90)" font-size="17.6">High.1_9</text>
<text transform="translate(688.05 1478.8) rotate(90)" font-size="17.6">High.1_10</text>
<g id="cbarC">
<rect x="895.1" y="854.75" width="17.9" height="1.76" fill="#F0FE99"/>
<rect x="895.1" y="856.81" width="17.9" height="1.76" fill="#EFFC8E"/>
<rect x="895.1" y="858.87" width="17.9" height="1.76" fill="#EFFB84"/>
<rect x="895.1" y="860.93" width="17.9" height="1.76" fill="#EEF97A"/>
<rect x="895.1" y="862.99" width="17.9" height="1.76" fill="#EEF776"/>
<rect x="895.1" y="865.05" width="17.9" height="1.76" fill="#EEF573"/>
<rect x="895.1" y="867.11" width="17.9" height="1.76" fill="#EEF370"/>
<rect x="895.1" y="869.17" width="17.9" height="1.76" fill="#EEF26D"/>
<rect x="895.1" y="871.23" width="17.9" height="1.76" fill="#EEF069"/>
<rect x="895.1" y="873.29" width="17.9" height="1.76" fill="#EEEC64"/>
<rect x="895.1" y="875.35" width="17.9" height="1.76" fill="#EEE85E"/>
<rect x="895.1" y="877.41" width="17.9" height="1.76" fill="#EDE459"/>
<rect x="895.1" y="879.47" width="17.9" height="1.76" fill="#EDE053"/>
<rect x="895.1" y="881.53" width="17.9" height="1.76" fill="#EDDB4F"/>
<rect x="895.1" y="883.59" width="17.9" height="1.76" fill="#EDD54B"/>
<rect x="895.1" y="885.65" width="17.9" height="1.76" fill="#ECD046"/>
<rect x="895.1" y="887.71" width="17.9" height="1.76" fill="#ECCB42"/>
<rect x="895.1" y="889.78" width="17.9" height="1.76" fill="#ECC63F"/>
<rect x="895.1" y="891.84" width="17.9" height="1.76" fill="#ECC13D"/>
<rect x="895.1" y="893.90" width="17.9" height="1.76" fill="#ECBB3A"/>
<rect x="895.1" y="895.96" width="17.9" height="1.76" fill="#ECB638"/>
<rect x="895.1" y="898.02" width="17.9" height="1.76" fill="#ECB136"/>
<rect x="895.1" y="900.08" width="17.9" height="1.76" fill="#ECAD34"/>
<rect x="895.1" y="902.14" width="17.9" height="1.76" fill="#ECA832"/>
<rect x="895.1" y="904.20" width="17.9" height="1.76" fill="#ECA330"/>
<rect x="895.1" y="906.26" width="17.9" height="1.76" fill="#EC9E2E"/>
<rect x="895.1" y="908.32" width="17.9" height="1.76" fill="#EC9A2D"/>
<rect x="895.1" y="910.38" width="17.9" height="1.76" fill="#EC962B"/>
<rect x="895.1" y="912.44" width="17.9" height="1.76" fill="#EC922A"/>
<rect x="895.1" y="914.50" width="17.9" height="1.76" fill="#EC8E29"/>
<rect x="895.1" y="916.56" width="17.9" height="1.76" fill="#EC8A27"/>
<rect x="895.1" y="918.62" width="17.9" height="1.76" fill="#EC8626"/>
<rect x="895.1" y="920.68" width="17.9" height="1.76" fill="#EC8226"/>
<rect x="895.1" y="922.74" width="17.9" height="1.76" fill="#EC7F25"/>
<rect x="895.1" y="924.80" width="17.9" height="1.76" fill="#EC7B24"/>
<rect x="895.1" y="926.86" width="17.9" height="1.76" fill="#EC7823"/>
<rect x="895.1" y="928.92" width="17.9" height="1.76" fill="#EC7423"/>
<rect x="895.1" y="930.98" width="17.9" height="1.76" fill="#EC7122"/>
<rect x="895.1" y="933.04" width="17.9" height="1.76" fill="#EC6E22"/>
<rect x="895.1" y="935.10" width="17.9" height="1.76" fill="#EC6B23"/>
<rect x="895.1" y="937.16" width="17.9" height="1.76" fill="#EC6823"/>
<rect x="895.1" y="939.22" width="17.9" height="1.76" fill="#EB6523"/>
<rect x="895.1" y="941.28" width="17.9" height="1.76" fill="#EB6324"/>
<rect x="895.1" y="943.34" width="17.9" height="1.76" fill="#EB5F25"/>
<rect x="895.1" y="945.40" width="17.9" height="1.76" fill="#EA5C27"/>
<rect x="895.1" y="947.46" width="17.9" height="1.76" fill="#E95829"/>
<rect x="895.1" y="949.52" width="17.9" height="1.76" fill="#E9552B"/>
<rect x="895.1" y="951.58" width="17.9" height="1.76" fill="#E8522E"/>
<rect x="895.1" y="953.64" width="17.9" height="1.76" fill="#E75031"/>
<rect x="895.1" y="955.70" width="17.9" height="1.76" fill="#E54D34"/>
<rect x="895.1" y="957.77" width="17.9" height="1.76" fill="#E44C37"/>
<rect x="895.1" y="959.83" width="17.9" height="1.76" fill="#E24A3B"/>
<rect x="895.1" y="961.89" width="17.9" height="1.76" fill="#E0483E"/>
<rect x="895.1" y="963.95" width="17.9" height="1.76" fill="#DE4640"/>
<rect x="895.1" y="966.01" width="17.9" height="1.76" fill="#DC4443"/>
<rect x="895.1" y="968.07" width="17.9" height="1.76" fill="#DA4245"/>
<rect x="895.1" y="970.13" width="17.9" height="1.76" fill="#D84047"/>
<rect x="895.1" y="972.19" width="17.9" height="1.76" fill="#D53E4A"/>
<rect x="895.1" y="974.25" width="17.9" height="1.76" fill="#D33D4D"/>
<rect x="895.1" y="976.31" width="17.9" height="1.76" fill="#D13B4F"/>
<rect x="895.1" y="978.37" width="17.9" height="1.76" fill="#CF3951"/>
<rect x="895.1" y="980.43" width="17.9" height="1.76" fill="#CC3853"/>
<rect x="895.1" y="982.49" width="17.9" height="1.76" fill="#CA3655"/>
<rect x="895.1" y="984.55" width="17.9" height="1.76" fill="#C83556"/>
<rect x="895.1" y="986.61" width="17.9" height="1.76" fill="#C63358"/>
<rect x="895.1" y="988.67" width="17.9" height="1.76" fill="#C4325A"/>
<rect x="895.1" y="990.73" width="17.9" height="1.76" fill="#C0315C"/>
<rect x="895.1" y="992.79" width="17.9" height="1.76" fill="#BC305E"/>
<rect x="895.1" y="994.85" width="17.9" height="1.76" fill="#B82F60"/>
<rect x="895.1" y="996.91" width="17.9" height="1.76" fill="#B42E62"/>
<rect x="895.1" y="998.97" width="17.9" height="1.76" fill="#B02D64"/>
<rect x="895.1" y="1001.03" width="17.9" height="1.76" fill="#AC2C65"/>
<rect x="895.1" y="1003.09" width="17.9" height="1.76" fill="#A92B66"/>
<rect x="895.1" y="1005.15" width="17.9" height="1.76" fill="#A52B67"/>
<rect x="895.1" y="1007.21" width="17.9" height="1.76" fill="#A22A68"/>
<rect x="895.1" y="1009.27" width="17.9" height="1.76" fill="#9E296A"/>
<rect x="895.1" y="1011.33" width="17.9" height="1.76" fill="#9A286B"/>
<rect x="895.1" y="1013.39" width="17.9" height="1.76" fill="#97276D"/>
<rect x="895.1" y="1015.45" width="17.9" height="1.76" fill="#93266F"/>
<rect x="895.1" y="1017.51" width="17.9" height="1.76" fill="#8F2570"/>
<rect x="895.1" y="1019.57" width="17.9" height="1.76" fill="#8C2471"/>
<rect x="895.1" y="1021.63" width="17.9" height="1.76" fill="#882473"/>
<rect x="895.1" y="1023.70" width="17.9" height="1.76" fill="#842374"/>
<rect x="895.1" y="1025.76" width="17.9" height="1.76" fill="#812275"/>
<rect x="895.1" y="1027.82" width="17.9" height="1.76" fill="#7D2176"/>
<rect x="895.1" y="1029.88" width="17.9" height="1.76" fill="#791F77"/>
<rect x="895.1" y="1031.94" width="17.9" height="1.76" fill="#761E78"/>
<rect x="895.1" y="1034.00" width="17.9" height="1.76" fill="#721D78"/>
<rect x="895.1" y="1036.06" width="17.9" height="1.76" fill="#6F1C78"/>
<rect x="895.1" y="1038.12" width="17.9" height="1.76" fill="#6B1B79"/>
<rect x="895.1" y="1040.18" width="17.9" height="1.76" fill="#681A79"/>
<rect x="895.1" y="1042.24" width="17.9" height="1.76" fill="#641979"/>
<rect x="895.1" y="1044.30" width="17.9" height="1.76" fill="#611879"/>
<rect x="895.1" y="1046.36" width="17.9" height="1.76" fill="#5D1678"/>
<rect x="895.1" y="1048.42" width="17.9" height="1.76" fill="#591577"/>
<rect x="895.1" y="1050.48" width="17.9" height="1.76" fill="#561477"/>
<rect x="895.1" y="1052.54" width="17.9" height="1.76" fill="#521376"/>
<rect x="895.1" y="1054.60" width="17.9" height="1.76" fill="#4F1275"/>
<rect x="895.1" y="1056.66" width="17.9" height="1.76" fill="#4B1173"/>
<rect x="895.1" y="1058.72" width="17.9" height="1.76" fill="#471072"/>
<rect x="895.1" y="1060.78" width="17.9" height="1.76" fill="#440F71"/>
<rect x="895.1" y="1062.84" width="17.9" height="1.76" fill="#400F6F"/>
<rect x="895.1" y="1064.90" width="17.9" height="1.76" fill="#3D0E6D"/>
<rect x="895.1" y="1066.96" width="17.9" height="1.76" fill="#3A0E6B"/>
<rect x="895.1" y="1069.02" width="17.9" height="1.76" fill="#370D6A"/>
<rect x="895.1" y="1071.08" width="17.9" height="1.76" fill="#330D67"/>
<rect x="895.1" y="1073.14" width="17.9" height="1.76" fill="#300C64"/>
<rect x="895.1" y="1075.20" width="17.9" height="1.76" fill="#2D0C60"/>
<rect x="895.1" y="1077.26" width="17.9" height="1.76" fill="#2A0C5D"/>
<rect x="895.1" y="1079.32" width="17.9" height="1.76" fill="#270B59"/>
<rect x="895.1" y="1081.38" width="17.9" height="1.76" fill="#240B55"/>
<rect x="895.1" y="1083.44" width="17.9" height="1.76" fill="#210B50"/>
<rect x="895.1" y="1085.50" width="17.9" height="1.76" fill="#1E0A4C"/>
<rect x="895.1" y="1087.56" width="17.9" height="1.76" fill="#1C0A47"/>
<rect x="895.1" y="1089.62" width="17.9" height="1.76" fill="#1A0A44"/>
<rect x="895.1" y="1091.69" width="17.9" height="1.76" fill="#180940"/>
<rect x="895.1" y="1093.75" width="17.9" height="1.76" fill="#16093D"/>
<rect x="895.1" y="1095.81" width="17.9" height="1.76" fill="#140839"/>
<rect x="895.1" y="1097.87" width="17.9" height="1.76" fill="#120836"/>
<rect x="895.1" y="1099.93" width="17.9" height="1.76" fill="#110831"/>
<rect x="895.1" y="1101.99" width="17.9" height="1.76" fill="#0F072C"/>
<rect x="895.1" y="1104.05" width="17.9" height="1.76" fill="#0D0728"/>
<rect x="895.1" y="1106.11" width="17.9" height="1.76" fill="#0B0623"/>
<rect x="895.1" y="1108.17" width="17.9" height="1.76" fill="#0A061F"/>
<rect x="895.1" y="1110.23" width="17.9" height="1.76" fill="#08051B"/>
<rect x="895.1" y="1112.29" width="17.9" height="1.76" fill="#070517"/>
<rect x="895.1" y="1114.35" width="17.9" height="1.76" fill="#060413"/>
<rect x="895.1" y="1116.41" width="17.9" height="1.76" fill="#05040F"/>
<rect x="895.1" y="1118.47" width="17.9" height="1.76" fill="#04030D"/>
<rect x="895.1" y="1120.53" width="17.9" height="1.76" fill="#03030B"/>
<rect x="895.1" y="1122.59" width="17.9" height="1.76" fill="#020209"/>
</g>
<text x="920.3" y="877.4" font-size="17.7">3</text>
<text x="920.3" y="930.8" font-size="17.7">2</text>
<text x="920.3" y="985.6" font-size="17.7">1</text>
<text x="920.3" y="1039.1" font-size="17.7">0</text>
<text x="920.3" y="1092.9" font-size="17.7">−1</text>
<text x="947.3" y="867.3" font-size="17.7">Treatment</text>
<rect x="947" y="874" width="25.7" height="25.9" fill="#DEA22C" stroke="#999" stroke-width="1"/>
<text x="978.1" y="893.5" font-size="17.7">High1</text>
<rect x="947" y="899.9" width="25.7" height="25.9" fill="#6DBDE9" stroke="#999" stroke-width="1"/>
<text x="978.1" y="919.25" font-size="17.7">High2</text>
<rect x="947" y="925.8" width="25.7" height="25.9" fill="#48AC7D" stroke="#999" stroke-width="1"/>
<text x="978.1" y="945" font-size="17.7">Low1</text>
<rect x="947" y="951.7" width="25.7" height="25.9" fill="#E8EB4F" stroke="#999" stroke-width="1"/>
<text x="978.1" y="970.75" font-size="17.7">Low2</text>
</g>
<g id="panelD" class="dj">
<rect x="1118" y="917.1" width="878.5" height="390.5" fill="#fff"/>
<line x1="1204.9" x2="1204.9" y1="917.1" y2="1307.6" stroke="#e6e6e6" stroke-width="1"/>
<line x1="1322.3" x2="1322.3" y1="917.1" y2="1307.6" stroke="#e6e6e6" stroke-width="1"/>
<line x1="1439.7" x2="1439.7" y1="917.1" y2="1307.6" stroke="#e6e6e6" stroke-width="1"/>
<line x1="1557.1" x2="1557.1" y1="917.1" y2="1307.6" stroke="#e6e6e6" stroke-width="1"/>
<line x1="1674.5" x2="1674.5" y1="917.1" y2="1307.6" stroke="#e6e6e6" stroke-width="1"/>
<line x1="1791.9" x2="1791.9" y1="917.1" y2="1307.6" stroke="#e6e6e6" stroke-width="1"/>
<line x1="1909.3" x2="1909.3" y1="917.1" y2="1307.6" stroke="#e6e6e6" stroke-width="1"/>
<line x1="1118" x2="1996.5" y1="1307.6" y2="1307.6" stroke="#e6e6e6" stroke-width="1"/>
<line x1="1118" x2="1996.5" y1="1254.5" y2="1254.5" stroke="#e6e6e6" stroke-width="1"/>
<line x1="1118" x2="1996.5" y1="1201.4" y2="1201.4" stroke="#e6e6e6" stroke-width="1"/>
<line x1="1118" x2="1996.5" y1="1148.3" y2="1148.3" stroke="#e6e6e6" stroke-width="1"/>
<line x1="1118" x2="1996.5" y1="1095.2" y2="1095.2" stroke="#e6e6e6" stroke-width="1"/>
<line x1="1118" x2="1996.5" y1="1042.1" y2="1042.1" stroke="#e6e6e6" stroke-width="1"/>
<line x1="1118" x2="1996.5" y1="989" y2="989" stroke="#e6e6e6" stroke-width="1"/>
<line x1="1118" x2="1996.5" y1="935.9" y2="935.9" stroke="#e6e6e6" stroke-width="1"/>
<rect x="1158.05" y="935.9" width="93.7" height="371.7" fill="#F2FFBF"/>
<rect x="1275.45" y="1227.95" width="93.7" height="79.65" fill="#40147A"/>
<rect x="1392.85" y="1249.19" width="93.7" height="58.41" fill="#29125F"/>
<rect x="1510.25" y="1116.44" width="93.7" height="191.16" fill="#B83C80"/>
<rect x="1627.65" y="1235.91" width="93.7" height="71.68" fill="#37126F"/>
<rect x="1745.05" y="1214.67" width="93.7" height="92.92" fill="#51187F"/>
<rect x="1862.45" y="1182.81" width="93.7" height="124.79" fill="#6F2688"/>
<rect x="1118" y="917.1" width="878.5" height="390.5" fill="none" stroke="#1a1a1a" stroke-width="1.2"/>
<line x1="1113.5" x2="1118" y1="1307.6" y2="1307.6" stroke="#1a1a1a" stroke-width="1.1"/>
<text x="1108.2" y="1312.5" font-size="13.45" text-anchor="end">0</text>
<line x1="1113.5" x2="1118" y1="1254.5" y2="1254.5" stroke="#1a1a1a" stroke-width="1.1"/>
<text x="1108.2" y="1259.4" font-size="13.45" text-anchor="end">20</text>
<line x1="1113.5" x2="1118" y1="1201.4" y2="1201.4" stroke="#1a1a1a" stroke-width="1.1"/>
<text x="1108.2" y="1206.3" font-size="13.45" text-anchor="end">40</text>
<line x1="1113.5" x2="1118" y1="1148.3" y2="1148.3" stroke="#1a1a1a" stroke-width="1.1"/>
<text x="1108.2" y="1153.2" font-size="13.45" text-anchor="end">60</text>
<line x1="1113.5" x2="1118" y1="1095.2" y2="1095.2" stroke="#1a1a1a" stroke-width="1.1"/>
<text x="1108.2" y="1100.1" font-size="13.45" text-anchor="end">80</text>
<line x1="1113.5" x2="1118" y1="1042.1" y2="1042.1" stroke="#1a1a1a" stroke-width="1.1"/>
<text x="1108.2" y="1047" font-size="13.45" text-anchor="end">100</text>
<line x1="1113.5" x2="1118" y1="989" y2="989" stroke="#1a1a1a" stroke-width="1.1"/>
<text x="1108.2" y="993.9" font-size="13.45" text-anchor="end">120</text>
<line x1="1113.5" x2="1118" y1="935.9" y2="935.9" stroke="#1a1a1a" stroke-width="1.1"/>
<text x="1108.2" y="940.8" font-size="13.45" text-anchor="end">140</text>
<line x1="1204.9" x2="1204.9" y1="1307.6" y2="1312.1" stroke="#1a1a1a" stroke-width="1.1"/>
<text transform="translate(1202.2 1324.4) rotate(-45)" font-size="13.45" text-anchor="end">dre-miR-129-5p</text>
<line x1="1322.3" x2="1322.3" y1="1307.6" y2="1312.1" stroke="#1a1a1a" stroke-width="1.1"/>
<text transform="translate(1319.6 1324.4) rotate(-45)" font-size="13.45" text-anchor="end">dre-miR-184</text>
<line x1="1439.7" x2="1439.7" y1="1307.6" y2="1312.1" stroke="#1a1a1a" stroke-width="1.1"/>
<text transform="translate(1437 1324.4) rotate(-45)" font-size="13.45" text-anchor="end">dre-miR-181a-5-3p</text>
<line x1="1557.1" x2="1557.1" y1="1307.6" y2="1312.1" stroke="#1a1a1a" stroke-width="1.1"/>
<text transform="translate(1554.4 1324.4) rotate(-45)" font-size="13.45" text-anchor="end">dre-miR-183-5p</text>
<line x1="1674.5" x2="1674.5" y1="1307.6" y2="1312.1" stroke="#1a1a1a" stroke-width="1.1"/>
<text transform="translate(1671.8 1324.4) rotate(-45)" font-size="13.45" text-anchor="end">dre-miR-193b-5p</text>
<line x1="1791.9" x2="1791.9" y1="1307.6" y2="1312.1" stroke="#1a1a1a" stroke-width="1.1"/>
<text transform="translate(1789.2 1324.4) rotate(-45)" font-size="13.45" text-anchor="end">dre-miR-10b-5p</text>
<line x1="1909.3" x2="1909.3" y1="1307.6" y2="1312.1" stroke="#1a1a1a" stroke-width="1.1"/>
<text transform="translate(1906.6 1324.4) rotate(-45)" font-size="13.45" text-anchor="end">dre-miR-200a-5p</text>
<text x="1557" y="908.8" font-size="16.15" text-anchor="middle">Number of matching significantly differentially expressed genes</text>
<text x="1557.3" y="1442" font-size="13.45" text-anchor="middle">miRNA</text>
<text transform="translate(1072 1112.2) rotate(-90)" font-size="13.43" text-anchor="middle">Num of matching sig differentially expressed genes</text>
</g>
<g id="icons">
<g transform="translate(1863.7 1504.2)"><path d="M22 13.5C30 18.5 37 25.5 42 31.5C45.5 35.5 50 37 55 35.3C59.5 33.5 64 33.5 67.5 38.5C70.5 43 72.5 47.5 76 49.8C78 51 80 50.8 81.2 50.3" fill="none" stroke="#6BA3B7" stroke-width="1.5" stroke-linecap="round"/><path d="M9 5L23.4 14.6" fill="none" stroke="#8FBECC" stroke-width="4.8" stroke-linecap="round"/><path d="M9 5L23.4 14.6" fill="none" stroke="#BCDCE4" stroke-width="3" stroke-linecap="round"/><path d="M9 5L23.4 14.6" fill="none" stroke="#86B6C6" stroke-width="1"/><circle cx="7.6" cy="4.6" r="0.8" fill="#D0627E"/><g transform="rotate(36)"><path d="M-10 0.4C-7.4 -3.4 -3.6 -5.9 1 -5.9C5.6 -5.9 9.1 -3.4 9.1 0C9.1 3.4 5.6 5.7 1 5.7C-3.6 5.7 -7.4 3.6 -10 0.4Z" fill="#D3ECEF"/><path d="M-9.4 0.4C-7 -3 -3.5 -5.2 1 -5.2C5.2 -5.2 8.4 -3 8.4 0C8.4 3 5.2 5 1 5C-3.5 5 -7 3.2 -9.4 0.4Z" fill="#8953A5" stroke="#704492" stroke-width="0.7"/><path d="M-9.4 0.4C-7 -3.2 -3.5 -5.5 1 -5.5C2.8 -5.5 4.6 -5 6 -4.2" fill="none" stroke="#B9628F" stroke-width="0.8"/></g></g>
<g transform="translate(1897.4 1507.8)"><path d="M22 13.5C30 18.5 37 25.5 42 31.5C45.5 35.5 50 37 55 35.3C59.5 33.5 64 33.5 67.5 38.5C70.5 43 72.5 47.5 76 49.8C78 51 80 50.8 81.2 50.3" fill="none" stroke="#6BA3B7" stroke-width="1.5" stroke-linecap="round"/><path d="M9 5L23.4 14.6" fill="none" stroke="#8FBECC" stroke-width="4.8" stroke-linecap="round"/><path d="M9 5L23.4 14.6" fill="none" stroke="#BCDCE4" stroke-width="3" stroke-linecap="round"/><path d="M9 5L23.4 14.6" fill="none" stroke="#86B6C6" stroke-width="1"/><circle cx="7.6" cy="4.6" r="0.8" fill="#D0627E"/><g transform="rotate(36)"><path d="M-10 0.4C-7.4 -3.4 -3.6 -5.9 1 -5.9C5.6 -5.9 9.1 -3.4 9.1 0C9.1 3.4 5.6 5.7 1 5.7C-3.6 5.7 -7.4 3.6 -10 0.4Z" fill="#D3ECEF"/><path d="M-9.4 0.4C-7 -3 -3.5 -5.2 1 -5.2C5.2 -5.2 8.4 -3 8.4 0C8.4 3 5.2 5 1 5C-3.5 5 -7 3.2 -9.4 0.4Z" fill="#8953A5" stroke="#704492" stroke-width="0.7"/><path d="M-9.4 0.4C-7 -3.2 -3.5 -5.5 1 -5.5C2.8 -5.5 4.6 -5 6 -4.2" fill="none" stroke="#B9628F" stroke-width="0.8"/></g></g>
<g transform="translate(1867.3 1534.4)"><path d="M22 13.5C30 18.5 37 25.5 42 31.5C45.5 35.5 50 37 55 35.3C59.5 33.5 64 33.5 67.5 38.5C70.5 43 72.5 47.5 76 49.8C78 51 80 50.8 81.2 50.3" fill="none" stroke="#6BA3B7" stroke-width="1.5" stroke-linecap="round"/><path d="M9 5L23.4 14.6" fill="none" stroke="#8FBECC" stroke-width="4.8" stroke-linecap="round"/><path d="M9 5L23.4 14.6" fill="none" stroke="#BCDCE4" stroke-width="3" stroke-linecap="round"/><path d="M9 5L23.4 14.6" fill="none" stroke="#86B6C6" stroke-width="1"/><circle cx="7.6" cy="4.6" r="0.8" fill="#D0627E"/><g transform="rotate(36)"><path d="M-10 0.4C-7.4 -3.4 -3.6 -5.9 1 -5.9C5.6 -5.9 9.1 -3.4 9.1 0C9.1 3.4 5.6 5.7 1 5.7C-3.6 5.7 -7.4 3.6 -10 0.4Z" fill="#D3ECEF"/><path d="M-9.4 0.4C-7 -3 -3.5 -5.2 1 -5.2C5.2 -5.2 8.4 -3 8.4 0C8.4 3 5.2 5 1 5C-3.5 5 -7 3.2 -9.4 0.4Z" fill="#8953A5" stroke="#704492" stroke-width="0.7"/><path d="M-9.4 0.4C-7 -3.2 -3.5 -5.5 1 -5.5C2.8 -5.5 4.6 -5 6 -4.2" fill="none" stroke="#B9628F" stroke-width="0.8"/></g></g>
</g>
</svg>
</body></html>
